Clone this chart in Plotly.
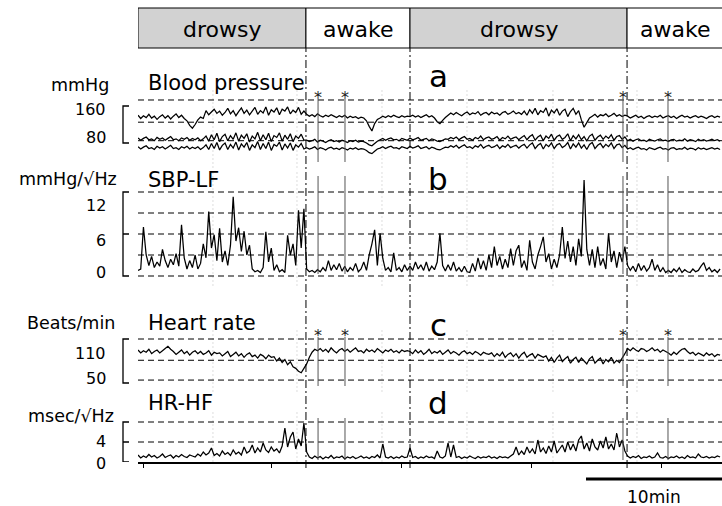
import plotly.graph_objects as go

# ---------------- data ----------------
DT = 0.2   # minutes between samples of every trace

states = ["drowsy", "awake", "drowsy", "awake"]
state_starts = [0.0, 12.35, 20.0, 35.96]          # minutes
asterisk_times = [13.24, 15.22, 35.66, 38.97]      # minutes
x_tick_minutes = [0.37, 9.85, 19.41, 28.90, 38.46]
faint_grid_minutes = [5.51, 11.69, 17.94, 24.19, 30.51, 36.69]
scale_bar_minutes = 10

sbp = [140, 133, 139, 135, 142, 134, 138, 131, 137, 141, 134, 139, 132, 138, 143, 135, 140, 133,
       128, 118, 112, 120, 130, 136, 133,
       150, 141, 147, 153, 144, 149, 140, 146, 155, 143, 150, 139, 148, 156, 144, 151, 141, 149, 157, 142,
       150, 145, 158, 140, 152, 147, 156, 141, 153, 149, 158, 143, 151, 146, 157, 142, 149,
       142, 138, 141, 137, 143, 139, 136, 140, 137, 141, 138, 135, 139, 136, 140, 134, 138, 135, 137, 133, 136, 134,
       128, 116, 106, 122, 131,
       134, 138, 135, 139, 136, 140, 137, 135, 139, 136, 138,
       137, 140, 136, 139, 135, 138, 141, 136, 139, 134,
       126, 122, 129, 135,
       140, 145, 141, 146, 142, 139, 144, 147, 141, 145, 143, 148, 140, 144, 146, 141, 147, 143, 145, 140,
       146, 148, 142, 145, 149, 143, 146, 142,
       149, 140, 152, 144, 155, 141, 150, 146, 156, 138, 151, 145, 154, 140, 149, 153, 137, 148, 155, 142, 150,
       130, 114, 124, 134,
       138, 142, 136, 141, 139, 143, 137, 140, 144, 138, 141, 137, 140,
       138, 134, 137, 140, 135, 138, 133, 137, 139, 135, 138, 136, 140, 134, 137, 139, 135, 138, 133, 137,
       140, 136, 138, 134, 137, 139, 135, 138, 136, 133, 137, 139, 135, 138, 136]

mbp = [91, 86, 90, 93, 87, 89, 85, 92, 88, 91, 86, 90, 94, 87, 89, 85, 91, 88, 92, 86, 90, 87, 91, 85, 89,
       95, 84, 98, 87, 101, 83, 94, 99, 85, 96, 88, 102, 84, 97, 90, 100, 82, 95, 89, 103,
       85, 98, 87, 101, 83, 96, 92, 102, 84, 97, 88, 100, 83, 95, 90, 99, 86,
       86, 83, 85, 88, 82, 86, 84, 81, 85, 87, 83, 85, 82, 86, 84, 81, 85, 83, 86, 82, 84, 83,
       80, 76, 74, 79, 84,
       87, 90, 86, 89, 91, 87, 88, 85, 90, 88, 86, 91, 87, 89, 92, 86, 88, 90, 85, 89, 87, 84, 83, 86, 89,
       88, 92, 89, 93, 87, 91, 94, 88, 90, 86, 92, 89, 95, 87, 91, 93, 88, 90, 94, 86, 92, 89, 95, 88, 91, 93, 87, 92,
       96, 87, 94, 98, 86, 93, 97, 85, 95, 90, 99, 86, 94, 97, 88, 92, 100, 85, 96, 89,
       98, 87, 94, 84, 95, 99, 86, 93, 97, 88, 95, 90, 98, 86, 94, 96, 88, 93,
       85, 88, 84, 87, 89, 85, 86, 83, 88, 86, 84, 87, 89, 85, 86, 83, 87, 88, 84, 86,
       85, 89, 84, 87, 86, 83, 88, 85, 87, 84, 86, 88, 85, 87, 84]

dbp = [72, 67, 71, 74, 68, 70, 66, 73, 69, 72, 67, 71, 75, 68, 70, 66, 72, 69, 73, 67, 71, 68, 72, 66, 70,
       76, 66, 79, 68, 81, 65, 75, 80, 66, 77, 69, 82, 65, 78, 71, 81, 64, 76, 70, 83,
       66, 79, 68, 82, 64, 77, 73, 82, 65, 78, 69, 80, 64, 76, 71, 79, 67,
       70, 67, 69, 72, 66, 70, 68, 65, 69, 71, 67, 69, 66, 70, 68, 65, 69, 67, 70, 66, 68, 67,
       64, 59, 57, 62, 67,
       69, 72, 68, 71, 73, 69, 70, 67, 72, 70, 68, 73, 69, 71, 74, 68, 70, 72, 67, 71, 69, 66, 65, 68, 71,
       70, 74, 71, 75, 69, 73, 76, 70, 72, 68, 74, 71, 77, 69, 73, 75, 70, 72, 76, 68, 74, 71, 77, 70, 73, 75, 69, 74,
       77, 69, 76, 80, 68, 75, 79, 67, 77, 72, 80, 68, 76, 79, 70, 74, 81, 67, 78, 71,
       80, 69, 76, 66, 77, 81, 68, 75, 79, 70, 77, 72, 80, 68, 76, 78, 70, 75,
       67, 70, 66, 69, 71, 67, 68, 65, 70, 68, 66, 69, 71, 67, 68, 65, 69, 70, 66, 68,
       67, 71, 66, 69, 68, 65, 70, 67, 69, 66, 68, 70, 67, 69, 66]

sbp_lf = [0.8, 1.0, 7.0, 3.0, 1.5, 2.8, 1.2, 2.0, 1.4, 3.8,
          2.2, 1.2, 2.4, 1.6, 3.2, 1.4, 7.3, 2.6, 1.0, 2.2,
          1.2, 3.0, 1.0, 1.8, 4.6, 2.6, 9.2, 4.0, 5.9, 2.2,
          6.8, 2.0, 3.6, 1.5, 4.4, 11.3, 5.0, 6.9, 3.5, 6.4,
          3.0, 4.4, 1.0, 0.6, 0.8, 0.5, 1.2, 6.3, 2.0, 4.0,
          0.8, 1.6, 0.6, 0.9, 0.5, 5.8, 3.0, 4.6, 1.5, 9.4,
          4.0, 9.6, 1.0, 0.6, 0.8, 0.5, 0.9, 0.6, 1.2, 0.7,
          2.2, 0.8, 1.6, 0.9, 1.8, 0.7, 1.4, 0.6, 1.2, 0.8,
          1.8, 0.6, 1.0, 2.0, 0.8, 3.0, 4.6, 6.6, 1.5, 6.1,
          2.5, 0.8, 1.2, 0.6, 3.3, 0.8, 1.2, 0.6, 1.6, 0.8,
          1.4, 0.8, 2.0, 1.0, 1.6, 0.8, 2.0, 0.7, 1.4, 0.9,
          2.0, 6.1, 1.5, 0.7, 1.6, 0.8, 2.0, 0.7, 1.2, 0.6,
          1.4, 0.6, 0.5, 1.8, 0.7, 2.6, 1.0, 2.2, 0.8, 3.0,
          1.2, 4.2, 1.5, 2.8, 1.0, 2.4, 1.2, 3.9, 1.5, 3.6,
          4.4, 1.2, 2.2, 0.8, 5.1, 2.0, 1.0, 3.0, 4.2, 5.6,
          2.0, 3.2, 1.0, 2.4, 1.2, 3.0, 7.0, 2.5, 5.0, 2.0,
          4.2, 1.5, 5.3, 2.8, 13.7, 3.8, 1.5, 3.8, 1.2, 4.2,
          1.5, 2.5, 1.0, 6.1, 2.0, 3.6, 1.2, 3.4, 2.0, 4.2,
          1.5, 0.8, 1.4, 0.6, 1.8, 0.8, 1.5, 0.7, 1.2, 2.4,
          0.8, 1.6, 0.6, 1.2, 0.5, 0.8, 0.5, 1.0, 0.6, 1.2,
          0.5, 0.9, 0.6, 0.5, 1.0, 0.6, 0.8, 1.4, 1.9, 0.8,
          1.2, 0.6, 0.9, 0.5, 1.0]

hr = [95, 91, 94, 92, 96, 90, 93, 95, 91, 94,
      97, 100, 96,
      93, 89, 92, 95, 90, 93, 88, 92, 94, 90, 93, 89, 91, 94, 88, 92, 90,
      91, 87, 90, 93, 86, 89, 92, 87, 90, 85, 89, 91, 86, 88, 84, 89, 87, 83, 88, 85,
      86, 80, 84, 78, 82, 75, 79, 72, 70, 66, 64, 70,
      76, 85, 92, 96, 94,
      97, 93, 96, 92, 98, 94, 91, 95, 97, 93, 96, 92, 95, 98, 93, 94, 91, 96, 93, 95,
      92, 97, 94, 91, 95, 93, 96, 92, 94, 91, 95, 93, 94,
      93, 90, 95, 91, 94, 89, 92, 96, 90, 93, 91, 94, 89, 92, 95, 90, 93, 91, 88, 92,
      94, 90, 92, 89, 93, 91, 88, 92, 90, 89,
      91, 86, 90, 87, 92, 85, 89, 91, 86, 90, 84, 89, 92, 85, 88, 90, 84, 89, 87, 85,
      87, 80, 85, 78, 84, 88, 79, 83, 86, 77, 82, 85, 78, 84, 80, 76, 83, 86, 77, 81,
      84, 76, 82, 79, 85, 77, 81, 78, 84, 90,
      97, 94, 98, 95, 93, 97, 96, 93, 95, 98, 94, 96, 92, 95, 93,
      91, 88, 92, 89, 93, 96, 97, 93, 90, 92, 88, 91, 89, 87, 91, 88, 90, 86, 89, 88]

hr_hf = [1.4, 0.8, 1.2, 0.9, 1.5, 1.0, 1.3, 0.8, 1.1, 1.6,
         0.9, 1.2, 1.4, 0.8, 1.3, 1.0, 1.5, 1.1, 0.9, 1.4,
         1.2, 1.0, 1.6, 1.2, 2.0, 1.4, 1.8, 2.8, 1.3, 1.7,
         1.2, 2.2, 1.5, 1.9, 1.3, 2.4, 1.6, 2.0, 1.4, 3.0,
         1.8, 2.2, 3.4, 1.8, 2.8, 2.0, 3.8, 2.4, 1.9, 3.0,
         2.2, 2.6, 1.8, 3.2, 6.8, 3.0, 5.0, 6.0, 2.6, 4.6,
         3.2, 7.8, 2.0, 1.0, 0.7, 1.2, 0.8, 1.1, 0.6, 1.0,
         0.8, 1.3, 0.7, 1.0, 0.9, 1.2, 0.6, 1.0, 0.8, 1.1,
         0.7, 0.9, 1.2, 0.8, 1.0, 0.7, 1.1, 0.9, 1.4, 0.8,
         3.6, 1.0, 0.8, 1.1, 0.7, 1.0, 0.8, 1.2, 0.9, 1.0,
         2.8, 0.9, 1.1, 0.7, 1.0, 0.8, 1.2, 0.9, 1.0, 0.7,
         2.2, 1.0, 0.8, 1.2, 3.8, 1.0, 3.4, 0.9, 1.1, 0.7,
         1.0, 0.8, 1.2, 0.9, 0.7, 1.1, 0.8, 1.0, 0.9, 1.2,
         0.8, 1.0, 0.7, 1.1, 0.9, 1.0, 0.8, 1.2, 1.6, 3.0,
         1.4, 2.2, 1.5, 3.0, 1.8, 2.6, 1.6, 4.4, 2.0, 2.8,
         1.7, 3.2, 2.0, 4.2, 1.8, 2.6, 3.4, 2.0, 4.0, 2.4,
         3.6, 2.2, 4.4, 5.2, 2.6, 3.8, 2.2, 4.6, 3.0, 2.4,
         4.2, 2.8, 5.0, 2.6, 3.6, 2.4, 5.8, 3.0, 4.4, 2.2,
         1.2, 0.8, 1.1, 0.9, 1.3, 0.7, 1.0, 0.9, 1.2, 0.8,
         1.0, 1.8, 0.9, 0.8, 1.1, 0.7, 1.0, 0.9, 1.2, 0.8,
         1.0, 0.7, 1.3, 0.9, 1.0, 0.8, 1.6, 1.0, 0.9, 1.1,
         0.8, 1.0, 0.9, 1.2, 1.0]

bp_bracket = [160, 80]
bp_labels = ["160", "80"]
bp_dashes = [173, 125, 85]
lf_bracket = [12, 6, 0]
lf_labels = ["12", "6", "0"]
lf_dashes = [12, 9, 6, 3, 0]
hr_bracket = [110, 50]
hr_labels = ["110", "50"]
hr_dashes = [110, 81, 54]
hf_bracket = [8, 4, 0]
hf_labels = ["", "4", "0"]
hf_dashes = [8, 4]

# ---------------- layout geometry ----------------
W, H = 722, 506
L = 138
PX_PER_MIN = 13.6
X_MAX = (W - L) / PX_PER_MIN
FONT = "DejaVu Sans"


def px(xp):
    return (xp - L) / (W - L)


def py(yp):
    return 1 - yp / H


def calib(v_hi, p_hi, v_lo, p_lo, top, bot):
    s = (p_lo - p_hi) / (v_hi - v_lo)
    return dict(range=[v_lo - (bot - p_lo) / s, v_hi + (p_hi - top) / s],
                domain=[1 - bot / H, 1 - top / H])


# label_down: how many px each tick label sits below its bracket tick
panels = [
    dict(ax="y", cal=calib(160, 106, 80, 143, 90, 168), series=[sbp, mbp, dbp],
         bracket=bp_bracket, labels=bp_labels, label_down=[4, -6], dashes=bp_dashes,
         title="Blood pressure", title_y=83, unit="mmHg", unit_x=111, unit_y=85,
         letter="a", letter_y=76, star_span=(98, 162), star_y=97),
    dict(ax="y2", cal=calib(12, 192, 0, 276, 170, 286), series=[sbp_lf],
         bracket=lf_bracket, labels=lf_labels, label_down=[13, 6, -4], dashes=lf_dashes,
         title="SBP-LF", title_y=180, unit="mmHg/√Hz", unit_x=119, unit_y=179,
         letter="b", letter_y=179, star_span=(176, 274), star_y=None),
    dict(ax="y3", cal=calib(110, 339, 50, 383, 330, 392), series=[hr],
         bracket=hr_bracket, labels=hr_labels, label_down=[14, -5], dashes=hr_dashes,
         title="Heart rate", title_y=323, unit="Beats/min", unit_x=117, unit_y=323,
         letter="c", letter_y=325, star_span=(337, 386), star_y=335),
    dict(ax="y4", cal=calib(8, 422, 0, 462, 410, 462), series=[hr_hf],
         bracket=hf_bracket, labels=hf_labels, label_down=[0, -1, 1], dashes=hf_dashes,
         title="HR-HF", title_y=403, unit="msec/√Hz", unit_x=116, unit_y=416,
         letter="d", letter_y=403, star_span=(418, 460), star_y=None),
]

fig = go.Figure()
shapes = []
annotations = []

layout_axes = {}
for p in panels:
    for vals in p["series"]:
        fig.add_trace(go.Scatter(
            x=[k * DT for k in range(len(vals))], y=vals, mode="lines",
            line=dict(color="black", width=1.25, simplify=False), xaxis="x", yaxis=p["ax"],
            hoverinfo="skip", showlegend=False))
    key = "yaxis" if p["ax"] == "y" else "yaxis" + p["ax"][1:]
    layout_axes[key] = dict(range=p["cal"]["range"], domain=p["cal"]["domain"], anchor="x",
                            visible=False, fixedrange=True)
    d0, d1 = p["cal"]["domain"]
    for g in faint_grid_minutes:
        shapes.append(dict(type="line", xref="x", yref="paper", x0=g, x1=g, y0=d0, y1=d1,
                           line=dict(color="#dedede", width=1, dash="2px,2px"), layer="below"))
    for v in p["dashes"]:
        shapes.append(dict(type="line", xref="x", yref=p["ax"], x0=0, x1=X_MAX, y0=v, y1=v,
                           line=dict(color="black", width=1, dash="6px,4px"), layer="below"))
    b = p["bracket"]
    path = f"M {px(129)},{b[0]} L {px(123)},{b[0]} L {px(123)},{b[-1]} L {px(129)},{b[-1]}"
    for v in b[1:-1]:
        path += f" M {px(123)},{v} L {px(129)},{v}"
    shapes.append(dict(type="path", xref="paper", yref=p["ax"], path=path,
                       line=dict(color="black", width=1.3)))
    for v, lab, dn in zip(b, p["labels"], p["label_down"]):
        if lab:
            annotations.append(dict(text=lab, xref="paper", yref=p["ax"], x=px(108), y=v,
                                    xanchor="right", yanchor="middle", yshift=-dn,
                                    showarrow=False, font=dict(size=16, family=FONT, color="black")))
    for t in asterisk_times:
        shapes.append(dict(type="line", xref="x", yref="paper", x0=t, x1=t,
                           y0=py(p["star_span"][1]), y1=py(p["star_span"][0]),
                           line=dict(color="#555555", width=1)))
        if p["star_y"] is not None:
            annotations.append(dict(text="*", xref="x", yref="paper", x=t, y=py(p["star_y"]),
                                    xanchor="center", yanchor="middle", showarrow=False,
                                    font=dict(size=16, family=FONT, color="#222222")))
    annotations.append(dict(text=p["title"], xref="paper", yref="paper", x=px(146), y=py(p["title_y"]),
                            xanchor="left", yanchor="middle", showarrow=False,
                            font=dict(size=21, family=FONT, color="black")))
    annotations.append(dict(text=p["unit"], xref="paper", yref="paper", x=px(p["unit_x"]), y=py(p["unit_y"]),
                            xanchor="right", yanchor="middle", showarrow=False,
                            font=dict(size=17.5, family=FONT, color="black")))
    annotations.append(dict(text=p["letter"], xref="paper", yref="paper", x=px(438), y=py(p["letter_y"]),
                            xanchor="center", yanchor="middle", showarrow=False,
                            font=dict(size=31, family=FONT, color="black")))

# header bar with states
ends = state_starts[1:] + [X_MAX + 2]
for s, a, e in zip(states, state_starts, ends):
    shapes.append(dict(type="rect", xref="x", yref="paper", x0=a, x1=e, y0=py(48), y1=py(8),
                       fillcolor="#d2d2d2" if s == "drowsy" else "white",
                       line=dict(color="black", width=1), layer="above"))
    annotations.append(dict(text=s, xref="x", yref="paper", x=(a + min(e, X_MAX)) / 2, y=py(30),
                            xanchor="center", yanchor="middle", showarrow=False,
                            font=dict(size=22, family=FONT, color="black")))

for a in state_starts[1:]:
    shapes.append(dict(type="line", xref="x", yref="paper", x0=a, x1=a, y0=py(468), y1=py(48),
                       line=dict(color="black", width=1, dash="8px,3px,2px,3px")))

shapes.append(dict(type="line", xref="x", yref="paper", x0=X_MAX - scale_bar_minutes, x1=X_MAX,
                   y0=py(479), y1=py(479), line=dict(color="black", width=3)))
annotations.append(dict(text=f"{scale_bar_minutes}min", xref="x", yref="paper",
                        x=X_MAX - scale_bar_minutes / 2, y=py(497), xanchor="center", yanchor="middle",
                        showarrow=False, font=dict(size=17, family=FONT, color="black")))

fig.update_layout(
    width=W, height=H, margin=dict(l=L, r=0, t=0, b=0),
    paper_bgcolor="white", plot_bgcolor="rgba(0,0,0,0)", showlegend=False,
    font=dict(family=FONT, color="black"),
    xaxis=dict(range=[0, X_MAX], domain=[0, 1], anchor="y4", showline=True, linecolor="black",
               linewidth=1.5, ticks="outside", ticklen=4, tickcolor="black", tickwidth=1,
               tickvals=x_tick_minutes, showticklabels=False, showgrid=False, zeroline=False,
               fixedrange=True),
    shapes=shapes, annotations=annotations,
    **layout_axes,
)

fig.write_html("out.html", config={"displayModeBar": False},
               post_script="document.body.style.margin='0px';")
